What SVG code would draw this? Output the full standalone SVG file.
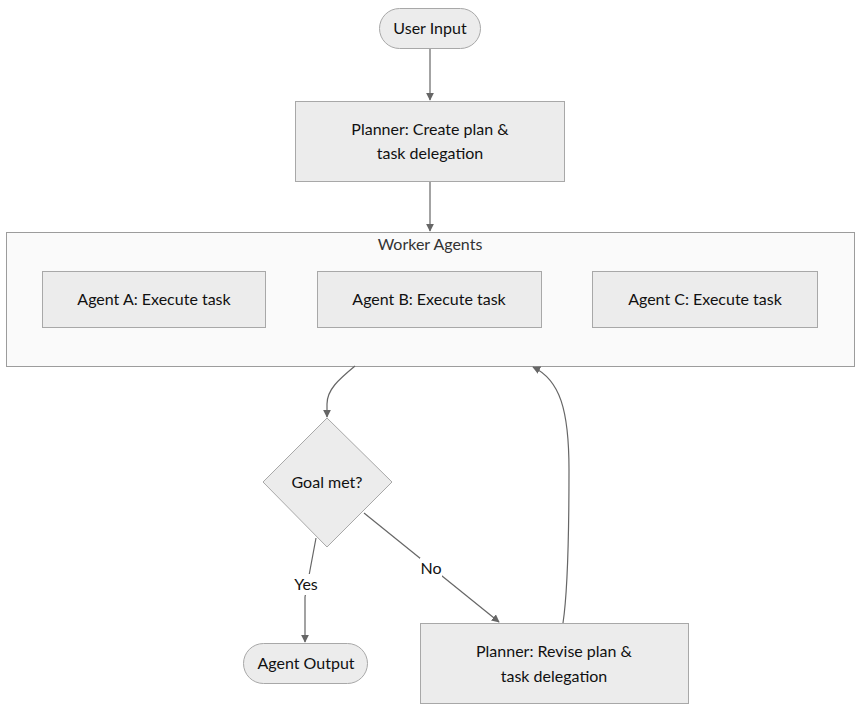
<svg xmlns="http://www.w3.org/2000/svg" width="863" height="711" viewBox="0 0 863 711">
<style>
text{font-family:Lato,"Liberation Sans",sans-serif;font-size:16px;fill:#111;text-anchor:middle;dominant-baseline:central}
.node{fill:#ececec;stroke:#a8a8a8;stroke-width:1}
.cluster{fill:#fafafa;stroke:#9c9c9c;stroke-width:1}
.edge{fill:none;stroke:#666;stroke-width:1.2}
.lblbg{fill:#fff}
.ctitle{fill:#333}
</style>
<defs>
<marker id="arrow" viewBox="0 0 10 10" refX="9" refY="5" markerWidth="8" markerHeight="8" markerUnits="userSpaceOnUse" orient="auto">
<path d="M0,0 L10,5 L0,10 z" fill="#666"/>
</marker>
</defs>
<rect width="863" height="711" fill="#fff"/>
<g id="cluster-worker-agents">
<rect class="cluster" x="6.5" y="232.5" width="848" height="134"/>
<text class="ctitle" x="430" y="243">Worker Agents</text>
</g>
<g id="connectors">
<path class="edge" d="M430,48 L430,100" marker-end="url(#arrow)"/>
<path class="edge" d="M430,181 L430,231" marker-end="url(#arrow)"/>
<path class="edge" d="M355,366 C338,380 327,390 327,404 L327,417" marker-end="url(#arrow)"/>
<path class="edge" d="M316,538 L305,597 L305,642" marker-end="url(#arrow)"/>
<path class="edge" d="M364,513 L499,622" marker-end="url(#arrow)"/>
<path class="edge" d="M563,623 C568,590 569,540 569,470 C569,410 560,380 533,367" marker-end="url(#arrow)"/>
<g id="label-yes">
<rect class="lblbg" x="293" y="574" width="26" height="21"/>
<text x="306" y="583">Yes</text>
</g>
<g id="label-no">
<rect class="lblbg" x="420" y="558" width="22" height="21"/>
<text x="431" y="567">No</text>
</g>
</g>
<g id="user-input">
<rect class="node" x="379.5" y="8.5" width="101" height="40" rx="20" ry="20"/>
<text x="430" y="27.5">User Input</text>
</g>
<g id="planner-create">
<rect class="node" x="295.5" y="101.5" width="269" height="80"/>
<text x="430" y="128.5">Planner: Create plan &amp;</text>
<text x="430" y="152.5">task delegation</text>
</g>
<g id="agent-a">
<rect class="node" x="42.5" y="271.5" width="223" height="56"/>
<text x="154" y="298.5">Agent A: Execute task</text>
</g>
<g id="agent-b">
<rect class="node" x="317.5" y="271.5" width="224" height="56"/>
<text x="429" y="298.5">Agent B: Execute task</text>
</g>
<g id="agent-c">
<rect class="node" x="592.5" y="271.5" width="225" height="56"/>
<text x="705" y="298.5">Agent C: Execute task</text>
</g>
<g id="goal-met">
<polygon class="node" points="327,418 392,482 327,547 263,482"/>
<text x="327" y="481.5">Goal met?</text>
</g>
<g id="agent-output">
<rect class="node" x="243.5" y="643.5" width="124" height="40" rx="20" ry="20"/>
<text x="306" y="662.5">Agent Output</text>
</g>
<g id="planner-revise">
<rect class="node" x="420.5" y="623.5" width="268" height="80"/>
<text x="554" y="650.5">Planner: Revise plan &amp;</text>
<text x="554" y="675.5">task delegation</text>
</g>
</svg>
